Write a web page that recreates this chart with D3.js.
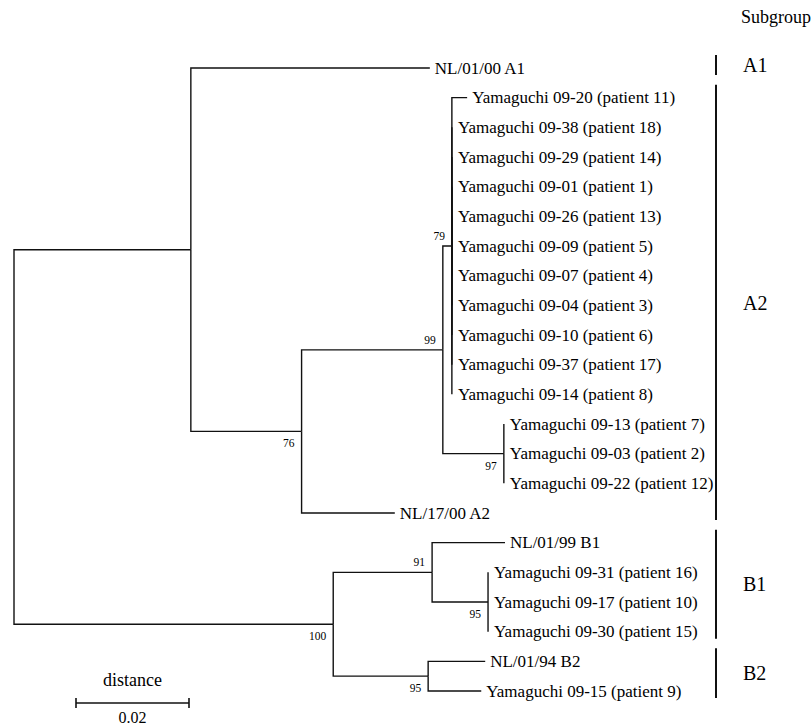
<!DOCTYPE html>
<html>
<head>
<meta charset="utf-8">
<script src="https://cdn.jsdelivr.net/npm/d3@7"></script>
<style>
  html, body { margin: 0; padding: 0; background: #fff; }
  svg { display: block; }
  text { font-family: "Liberation Serif", "Times New Roman", serif; fill: #000; }
</style>
</head>
<body>
<svg id="chart" width="811" height="728"></svg>
<script>
// ---------- DATA ----------
const nodeIds = [
  "root", "A", "NL/01/00 A1", "n76", "n99", "n79",
  "Yamaguchi 09-20 (patient 11)", "Yamaguchi 09-38 (patient 18)", "Yamaguchi 09-29 (patient 14)",
  "Yamaguchi 09-01 (patient 1)", "Yamaguchi 09-26 (patient 13)", "Yamaguchi 09-09 (patient 5)",
  "Yamaguchi 09-07 (patient 4)", "Yamaguchi 09-04 (patient 3)", "Yamaguchi 09-10 (patient 6)",
  "Yamaguchi 09-37 (patient 17)", "Yamaguchi 09-14 (patient 8)",
  "n97", "Yamaguchi 09-13 (patient 7)", "Yamaguchi 09-03 (patient 2)", "Yamaguchi 09-22 (patient 12)",
  "NL/17/00 A2",
  "B", "n91", "NL/01/99 B1", "n95a",
  "Yamaguchi 09-31 (patient 16)", "Yamaguchi 09-17 (patient 10)", "Yamaguchi 09-30 (patient 15)",
  "n95b", "NL/01/94 B2", "Yamaguchi 09-15 (patient 9)"
];
const parentIds = [
  null, "root", "A", "A", "n76", "n99",
  "n79", "n79", "n79",
  "n79", "n79", "n79",
  "n79", "n79", "n79",
  "n79", "n79",
  "n99", "n97", "n97", "n97",
  "n76",
  "root", "B", "n91", "n91",
  "n95a", "n95a", "n95a",
  "B", "n95b", "n95b"
];
const branchLengths = [
  0, 0.0313, 0.0423, 0.0196, 0.0250, 0.0016,
  0.0027, 0, 0,
  0, 0, 0,
  0, 0, 0,
  0, 0,
  0.0108, 0, 0, 0,
  0.0165,
  0.0565, 0.0175, 0.0129, 0.0099,
  0, 0, 0,
  0.0168, 0.0101, 0.0094
];
const bootstrapNodes  = ["n79", "n99", "n76", "n97", "n91", "n95a", "B", "n95b"];
const bootstrapValues = [79, 99, 76, 97, 91, 95, 100, 95];

const subgroupNames = ["A1", "A2", "B1", "B2"];
const subgroupFirstLeaf = ["NL/01/00 A1", "Yamaguchi 09-20 (patient 11)", "NL/01/99 B1", "NL/01/94 B2"];
const subgroupLastLeaf  = ["NL/01/00 A1", "NL/17/00 A2", "Yamaguchi 09-30 (patient 15)", "Yamaguchi 09-15 (patient 9)"];

const scaleBarValue = 0.02;
const scaleBarTitle = "distance";
const subgroupTitle = "Subgroup";

// ---------- BUILD TREE ----------
const table = nodeIds.map((id, i) => ({ id, parent: parentIds[i], len: branchLengths[i] }));
const root = d3.stratify().id(d => d.id).parentId(d => d.parent)(table);

root.eachBefore(n => { n.dist = (n.parent ? n.parent.dist : 0) + n.data.len; });

const leaves = root.leaves();
leaves.forEach((l, i) => { l.idx = i; });
root.eachAfter(n => {
  if (n.children) {
    n.idx = (n.children[0].idx + n.children[n.children.length - 1].idx) / 2;
  }
});

// ---------- SCALES ----------
const x = d3.scaleLinear().domain([0, 0.02]).range([14, 127]);
const y = d3.scaleLinear().domain([0, leaves.length - 1]).range([68, 691]);

const svg = d3.select("#chart");
const g = svg.append("g");

// ---------- BRANCHES ----------
g.selectAll("path.branch")
  .data(root.links())
  .join("path")
  .attr("class", "branch")
  .attr("fill", "none")
  .attr("stroke", "#111")
  .attr("stroke-width", 1.4)
  .attr("d", d => {
    const px = x(d.source.dist);
    const cx = x(d.target.dist), cy = y(d.target.idx);
    return `M${px},${y(d.source.idx)}V${cy}H${cx}`;
  });

// ---------- LEAF LABELS ----------
g.selectAll("text.leaf")
  .data(leaves)
  .join("text")
  .attr("class", "leaf")
  .attr("x", d => x(d.dist) + (d.data.len > 0 ? 5 : 6))
  .attr("y", d => y(d.idx))
  .attr("dy", "0.34em")
  .attr("font-size", 17)
  .text(d => d.id);

// ---------- BOOTSTRAP ----------
const above = new Set(["n79", "n99", "n91"]);
const byId = new Map();
root.each(n => byId.set(n.id, n));
g.selectAll("text.boot")
  .data(bootstrapNodes.map((id, i) => ({ node: byId.get(id), value: bootstrapValues[i], id })))
  .join("text")
  .attr("class", "boot")
  .attr("text-anchor", "end")
  .attr("font-size", 11.5)
  .attr("x", d => x(d.node.dist) - 7)
  .attr("y", d => y(d.node.idx) + (above.has(d.id) ? -6 : 16))
  .text(d => d.value);

// ---------- SUBGROUP BARS ----------
const leafById = new Map(leaves.map(l => [l.id, l]));
const barX = 716;
const sg = g.selectAll("g.sub")
  .data(subgroupNames.map((name, i) => ({
    name,
    y0: y(leafById.get(subgroupFirstLeaf[i]).idx) - 13,
    y1: y(leafById.get(subgroupLastLeaf[i]).idx) + 7
  })))
  .join("g").attr("class", "sub");
sg.append("line")
  .attr("x1", barX).attr("x2", barX)
  .attr("y1", d => d.y0).attr("y2", d => d.y1)
  .attr("stroke", "#111").attr("stroke-width", 2);
sg.append("text")
  .attr("x", 743)
  .attr("y", d => (d.y0 + d.y1) / 2)
  .attr("dy", "0.36em")
  .attr("font-size", 20)
  .text(d => d.name);

g.append("text")
  .attr("x", 741).attr("y", 23)
  .attr("font-size", 18)
  .text(subgroupTitle);

// ---------- SCALE BAR ----------
const sbX0 = 76, sbY = 703;
const sbLen = x(scaleBarValue) - x(0);
const sb = g.append("g");
sb.append("line").attr("x1", sbX0).attr("x2", sbX0 + sbLen).attr("y1", sbY).attr("y2", sbY)
  .attr("stroke", "#111").attr("stroke-width", 1.6);
[sbX0, sbX0 + sbLen].forEach(xx => {
  sb.append("line").attr("x1", xx).attr("x2", xx).attr("y1", sbY - 5).attr("y2", sbY + 5)
    .attr("stroke", "#111").attr("stroke-width", 1.6);
});
sb.append("text").attr("x", sbX0 + sbLen / 2).attr("y", 686)
  .attr("text-anchor", "middle").attr("font-size", 18).text(scaleBarTitle);
sb.append("text").attr("x", sbX0 + sbLen / 2).attr("y", 723)
  .attr("text-anchor", "middle").attr("font-size", 16).text(d3.format(".2f")(scaleBarValue));
</script>
</body>
</html>
